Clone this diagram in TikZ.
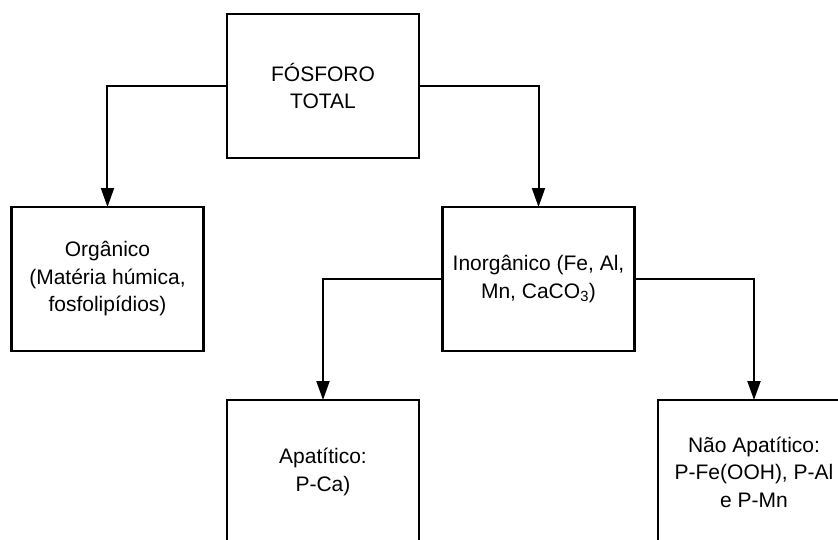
\documentclass[tikz,border=0pt]{standalone}
\usepackage{fontspec}
\setmainfont{Liberation Sans}
\usetikzlibrary{arrows.meta,positioning}

\begin{document}
\begin{tikzpicture}[
    box/.style={draw, line width=2.1pt, outer sep=0pt, minimum width=192pt, minimum height=144pt, align=center, font=\fontsize{21}{27.5}\selectfont},
    arr/.style={-{Triangle[length=19pt, width=13pt]}, line width=2pt},
    node distance=49pt and 23.5pt
]
\useasboundingbox (-323pt,86pt) rectangle (515pt,-453pt);
\clip (-323pt,86pt) rectangle (515pt,-453pt);
\node[box] (total) {FÓSFORO\\TOTAL};
\node[box, below left=of total] (org) {Orgânico\\(Matéria húmica,\\fosfolipídios)};
\node[box, below right=of total] (inorg) {Inorgânico (Fe, Al,\\Mn, CaCO\textsubscript{3})};
\node[box, below left=of inorg] (apat) {Apatítico:\\P-Ca)};
\node[box, below right=of inorg] (nao) {Não Apatítico:\\P-Fe(OOH), P-Al\\e P-Mn};

\draw[arr] (total.west) -| (org.north);
\draw[arr] (total.east) -| (inorg.north);
\draw[arr] (inorg.west) -| (apat.north);
\draw[arr] (inorg.east) -| (nao.north);
\end{tikzpicture}
\end{document}
